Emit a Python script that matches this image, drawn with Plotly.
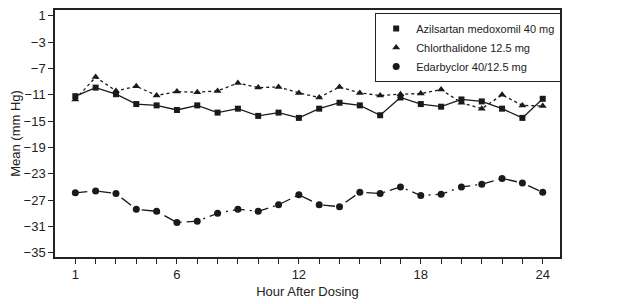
import plotly.graph_objects as go

hours = list(range(1, 25))
azilsartan = [-11.2, -9.9, -10.9, -12.4, -12.6, -13.3, -12.6, -13.7, -13.1, -14.2, -13.7, -14.5,
              -13.1, -12.2, -12.6, -14.1, -11.4, -12.4, -12.8, -11.7, -12.0, -13.1, -14.5, -11.6]
chlorthalidone = [-11.7, -8.3, -10.4, -9.7, -11.1, -10.5, -10.6, -10.4, -9.2, -9.9, -9.8, -10.7,
                  -11.4, -9.8, -10.7, -11.1, -10.9, -10.8, -10.2, -12.2, -13.1, -11.0, -12.6, -12.7]
edarbyclor = [-25.9, -25.6, -26.0, -28.4, -28.7, -30.4, -30.2, -29.0, -28.4, -28.7, -27.7, -26.2,
              -27.7, -28.0, -25.8, -26.0, -25.0, -26.3, -26.1, -25.0, -24.6, -23.7, -24.4, -25.8]
names = ["Azilsartan medoxomil 40 mg", "Chlorthalidone 12.5 mg", "Edarbyclor 40/12.5 mg"]
x_tick_vals = hours
x_tick_text = [str(h) if h in (1, 6, 12, 18, 24) else "" for h in hours]
y_ticks = [1, -3, -7, -11, -15, -19, -23, -27, -31, -35]

black = "#1a1a1a"
fig = go.Figure()
series = [
    (azilsartan, names[0], "square", 6, "solid"),
    (chlorthalidone, names[1], "triangle-up", 7, "3px,3px"),
    (edarbyclor, names[2], "circle", 7, "12px,5px,2px,5px"),
]
for vals, name, sym, size, dash in series:
    fig.add_trace(go.Scatter(
        x=hours, y=vals, mode="lines+markers", name=name, showlegend=False,
        line=dict(color=black, width=1.3, dash=dash),
        marker=dict(symbol=sym, size=size, color=black),
    ))
for vals, name, sym, size, dash in series:
    fig.add_trace(go.Scatter(
        x=[None], y=[None], mode="markers", name=name, showlegend=True,
        marker=dict(symbol=sym, size=size, color=black),
    ))

axis_font = dict(family="Liberation Sans, Arial, sans-serif", size=13, color="#222")
# page body has an 8px default margin, so the figure is 8px smaller and shifted
fig.update_layout(
    width=616, height=296,
    margin=dict(l=47, r=64, t=2, b=47, autoexpand=False),
    paper_bgcolor="white", plot_bgcolor="white",
    font=axis_font,
    showlegend=True,
    legend=dict(
        x=0.634, y=0.988, xanchor="left", yanchor="top",
        bordercolor="#222", borderwidth=1, bgcolor="white",
        font=dict(family="Liberation Sans, Arial, sans-serif", size=11, color="#222"),
        tracegroupgap=0, itemwidth=30,
    ),
    xaxis=dict(
        range=[0, 24.85], tickmode="array", tickvals=x_tick_vals, ticktext=x_tick_text,
        ticks="outside", ticklen=5, tickcolor="#222", tickwidth=1,
        showline=True, linecolor="#222", linewidth=1.5, mirror=True,
        showgrid=False, zeroline=False, automargin=False,
        title=dict(text="Hour After Dosing", standoff=6, font=axis_font),
    ),
    yaxis=dict(
        range=[-35.65, 1.9], tickmode="array", tickvals=y_ticks,
        ticks="outside", ticklen=5, tickcolor="#222", tickwidth=1,
        showline=True, linecolor="#222", linewidth=1.5, mirror=True,
        showgrid=False, zeroline=False, automargin=False,
        title=dict(text="Mean (mm Hg)", standoff=8, font=axis_font),
    ),
)
fig.write_html("out.html")
